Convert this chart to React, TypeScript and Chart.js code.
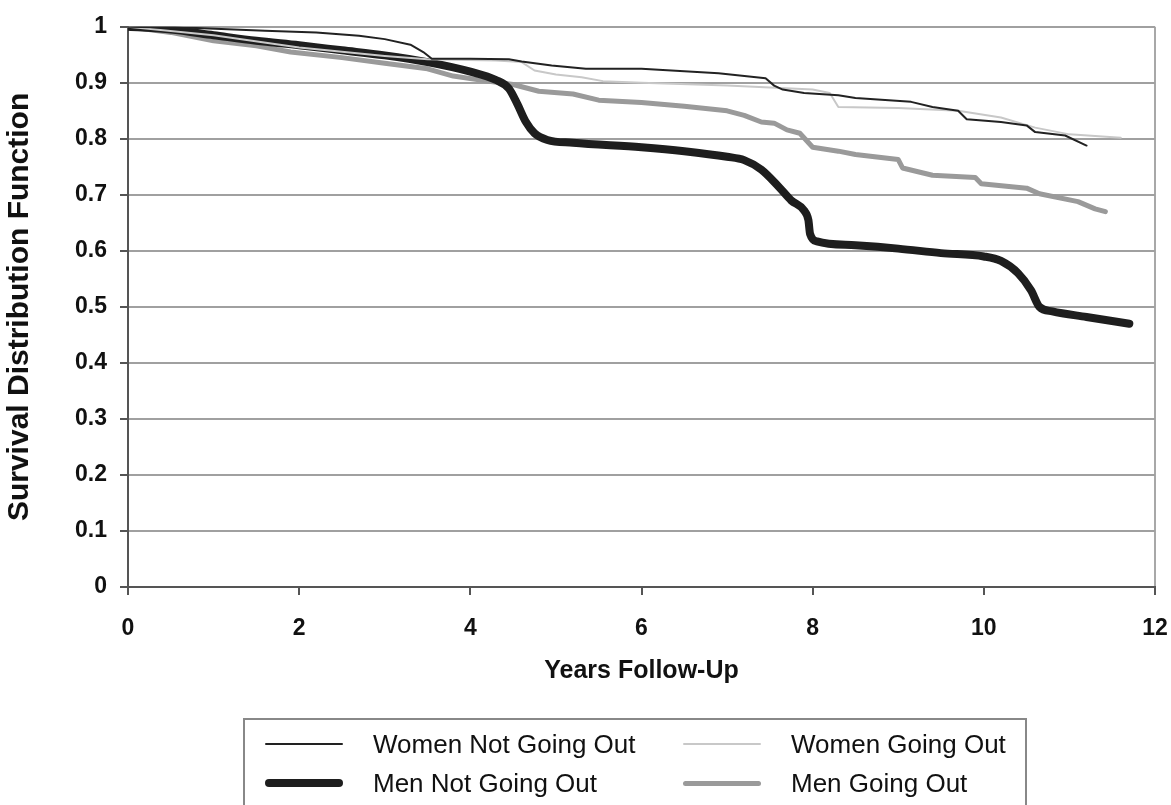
import React, { useEffect, useRef } from "react";
import { Chart, registerables } from "chart.js";

Chart.register(...registerables);

// Years follow-up (x) and survival (y) for each group
const womenNotOutT = [0, 0.8, 1.6, 2.2, 2.7, 3.0, 3.3, 3.45, 3.55, 4.0, 4.45, 4.6, 4.95, 5.35, 6.0, 6.9, 7.45, 7.55, 7.65, 7.9, 8.3, 8.5, 9.15, 9.4, 9.7, 9.8, 10.2, 10.5, 10.6, 10.95, 11.2];
const womenNotOutS = [1.0, 0.998, 0.993, 0.99, 0.984, 0.978, 0.968, 0.955, 0.943, 0.943, 0.942, 0.938, 0.931, 0.925, 0.925, 0.917, 0.908, 0.895, 0.888, 0.882, 0.878, 0.873, 0.866, 0.857, 0.85, 0.835, 0.83, 0.824, 0.812, 0.806, 0.788];

const womenOutT = [0, 1, 2, 3, 3.5, 4.3, 4.6, 4.75, 5.0, 5.3, 5.55, 6, 7, 8, 8.2, 8.3, 9, 9.7, 10.2, 10.6, 11, 11.6];
const womenOutS = [1.0, 0.985, 0.963, 0.948, 0.942, 0.94, 0.937, 0.922, 0.915, 0.91, 0.903, 0.9, 0.895, 0.888, 0.882, 0.857, 0.855, 0.85, 0.838, 0.82, 0.808, 0.802];

const menNotOutT = [0, 0.5, 1, 1.5, 2, 2.5, 3, 3.5, 4, 4.3, 4.45, 4.55, 4.65, 4.75, 4.9, 5.2, 6, 6.5, 7, 7.2, 7.4, 7.6, 7.75, 7.9, 7.95, 7.97, 8.05, 8.5, 9, 9.5, 10, 10.2, 10.4, 10.55, 10.65, 10.8, 11.2, 11.7];
const menNotOutS = [1.0, 0.995, 0.985, 0.975, 0.967, 0.958, 0.949, 0.937, 0.92, 0.905, 0.89, 0.862, 0.83, 0.81, 0.798, 0.793, 0.785, 0.778, 0.768, 0.762, 0.745, 0.715, 0.69, 0.672, 0.655, 0.63, 0.617, 0.61, 0.604, 0.596, 0.59, 0.582, 0.56, 0.53, 0.5, 0.492, 0.482, 0.47];

const menOutT = [0, 0.5, 1, 1.5, 1.9, 2.5, 3, 3.5, 3.8, 4.2, 4.5, 4.8, 5.2, 5.5, 6, 6.5, 7, 7.2, 7.4, 7.55, 7.7, 7.85, 8, 8.3, 8.5, 9, 9.05, 9.4, 9.9, 9.97, 10.5, 10.65, 11.1, 11.3, 11.42];
const menOutS = [1.0, 0.99, 0.975, 0.966, 0.955, 0.945, 0.935, 0.925, 0.912, 0.903, 0.897, 0.885, 0.88, 0.869, 0.865, 0.858, 0.85, 0.842, 0.83, 0.828, 0.816, 0.81, 0.785, 0.778, 0.772, 0.763, 0.748, 0.735, 0.731, 0.72, 0.712, 0.702, 0.688, 0.675, 0.67];

const seriesNames = ["Women Not Going Out", "Women Going Out", "Men Not Going Out", "Men Going Out"];
const xTicks = [0, 2, 4, 6, 8, 10, 12];

const pts = (t: number[], s: number[]) => t.map((x, i) => ({ x, y: s[i] }));

const FONT = "'Liberation Sans', Arial, Helvetica, sans-serif";

export default function App() {
  const ref = useRef<HTMLCanvasElement>(null);
  useEffect(() => {
    if (!ref.current) return;
    const chart = new Chart(ref.current, {
      type: "line",
      data: {
        datasets: [
          { label: seriesNames[0], data: pts(womenNotOutT, womenNotOutS), borderColor: "#222", borderWidth: 2, tension: 0 },
          { label: seriesNames[1], data: pts(womenOutT, womenOutS), borderColor: "#c8c8c8", borderWidth: 2, tension: 0 },
          { label: seriesNames[2], data: pts(menNotOutT, menNotOutS), borderColor: "#1e1e1e", borderWidth: 8, cubicInterpolationMode: "monotone" },
          { label: seriesNames[3], data: pts(menOutT, menOutS), borderColor: "#9a9a9a", borderWidth: 5, tension: 0 },
        ].map((d) => ({ ...d, pointRadius: 0, fill: false, borderCapStyle: "round", borderJoinStyle: "round" })) as any,
      },
      options: {
        responsive: false,
        animation: false,
        events: [],
        layout: { padding: { left: 0, top: 21, right: 16, bottom: 115 } },
        plugins: { legend: { display: false }, tooltip: { enabled: false } },
        scales: {
          x: {
            type: "linear",
            min: 0,
            max: 12,
            afterBuildTicks: (s: any) => { s.ticks = xTicks.map((v) => ({ value: v })); },
            afterFit: (s: any) => { s.height = 103; s.paddingRight = 0; s.paddingLeft = 0; },
            ticks: { color: "#111", font: { family: FONT, size: 23, weight: "bold" }, padding: 20, maxRotation: 0 },
            grid: {
              drawOnChartArea: true,
              color: (c: any) => (c.tick && c.tick.value === 12 ? "#a8a8a8" : "rgba(0,0,0,0)"),
              lineWidth: 2,
              tickColor: "#555",
              tickLength: 8,
            },
            border: { color: "#555", width: 2 },
            title: { display: true, text: "Years Follow-Up", color: "#111", font: { family: FONT, size: 25, weight: "bold" }, padding: { top: 4, bottom: 4 } },
          },
          y: {
            type: "linear",
            min: 0,
            max: 1,
            afterFit: (s: any) => { s.width = 128; },
            ticks: {
              stepSize: 0.1,
              color: "#111",
              font: { family: FONT, size: 23, weight: "bold" },
              padding: 13,
              callback: (v: any) => String(parseFloat(Number(v).toFixed(1))),
            },
            grid: { color: "#a0a0a0", lineWidth: 2, tickColor: "#555", tickLength: 8 },
            border: { color: "#555", width: 2 },
            title: { display: true, text: "Survival Distribution Function", color: "#111", font: { family: FONT, size: 30, weight: "bold" }, padding: { top: 2, bottom: 0 } },
          },
        },
      } as any,
    });
    return () => chart.destroy();
  }, []);

  const legendItems = [
    { name: seriesNames[0], color: "#222", w: 2, left: 265, top: 744 },
    { name: seriesNames[1], color: "#c8c8c8", w: 2, left: 683, top: 744 },
    { name: seriesNames[2], color: "#1e1e1e", w: 8, left: 265, top: 783 },
    { name: seriesNames[3], color: "#9a9a9a", w: 5, left: 683, top: 783 },
  ];

  return (
    <div style={{ position: "absolute", left: 0, top: 0, width: 1171, height: 805, overflow: "hidden", background: "#fff" }}>
      <canvas ref={ref} width={1171} height={805} style={{ display: "block", position: "absolute", left: 0, top: 0 }} />
      <div style={{ position: "absolute", left: 243, top: 718, width: 784, height: 120, border: "2px solid #888", boxSizing: "border-box" }} />
      {legendItems.map((it) => (
        <React.Fragment key={it.name}>
          <div style={{ position: "absolute", left: it.left, top: it.top - it.w / 2, width: 78, height: it.w, background: it.color, borderRadius: it.w / 2 }} />
          <div style={{ position: "absolute", left: it.left + 108, top: it.top - 16, height: 32, lineHeight: "32px", fontFamily: FONT, fontSize: 26, color: "#111", whiteSpace: "nowrap" }}>{it.name}</div>
        </React.Fragment>
      ))}
    </div>
  );
}
